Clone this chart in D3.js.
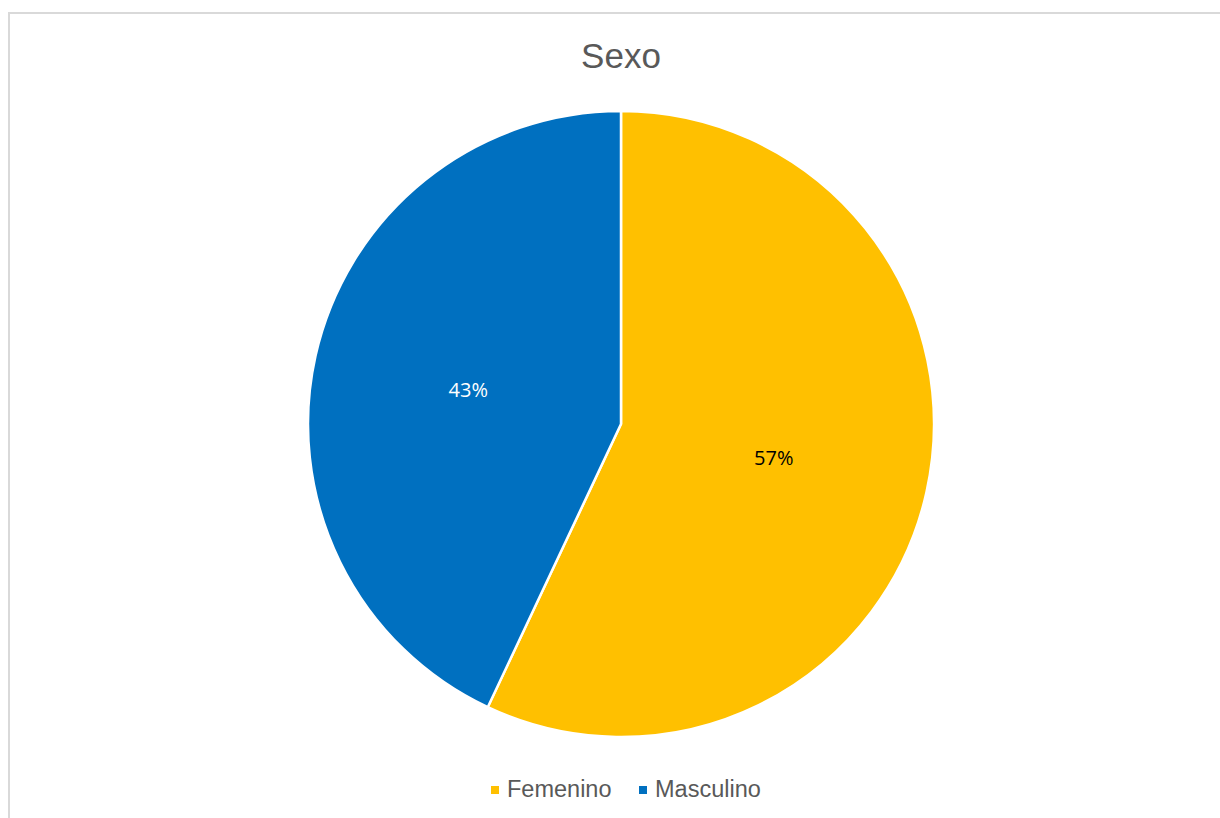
<!DOCTYPE html>
<html>
<head>
<meta charset="utf-8">
<script src="https://cdn.jsdelivr.net/npm/d3@7"></script>
<style>
  body { margin: 0; background: #fff; }
  svg { display: block; }
</style>
</head>
<body>
<div id="chart"></div>
<script>
const categories = ["Femenino", "Masculino"];
const values = [57, 43];
const colors = ["#FFC000", "#0070C0"];
const labelColors = ["#000000", "#ffffff"];
const title = "Sexo";

const width = 1220, height = 818;
const cx = 621, cy = 424, radius = 313;

const svg = d3.select("#chart").append("svg")
  .attr("width", width)
  .attr("height", height);

// chart frame
svg.append("rect")
  .attr("x", 9).attr("y", 13)
  .attr("width", 1220).attr("height", 820)
  .attr("fill", "#fff")
  .attr("stroke", "#d9d9d9")
  .attr("stroke-width", 2);

svg.append("text")
  .attr("x", cx).attr("y", 68)
  .attr("text-anchor", "middle")
  .style("font-family", "'Liberation Sans', Arial, sans-serif")
  .style("font-size", "35px")
  .style("fill", "#595959")
  .text(title);

const data = categories.map((c, i) => ({ name: c, value: values[i], color: colors[i], label: labelColors[i] }));
const pie = d3.pie().value(d => d.value).sort(null);
const arc = d3.arc().innerRadius(0).outerRadius(radius);
const labelArc = d3.arc().innerRadius(radius * 0.5).outerRadius(radius * 0.5);

const g = svg.append("g").attr("transform", `translate(${cx},${cy})`);
const arcs = pie(data);

g.selectAll("path")
  .data(arcs)
  .enter()
  .append("path")
  .attr("d", arc)
  .attr("fill", d => d.data.color)
  .attr("stroke", "#fff")
  .attr("stroke-width", 2.5);

const total = d3.sum(values);
g.selectAll("text.lbl")
  .data(arcs)
  .enter()
  .append("text")
  .attr("class", "lbl")
  .attr("transform", d => `translate(${labelArc.centroid(d)})`)
  .attr("dy", "0.35em")
  .attr("text-anchor", "middle")
  .style("font-family", "'Open Sans', sans-serif")
  .style("font-size", "20px")
  .style("fill", d => d.data.label)
  .text(d => Math.round(d.data.value / total * 100) + "%");

// legend
const legendItems = [{ x: 491, tx: 507 }, { x: 639, tx: 655 }];
const legend = svg.append("g");
data.forEach((d, i) => {
  legend.append("rect")
    .attr("x", legendItems[i].x).attr("y", 786)
    .attr("width", 8).attr("height", 8)
    .attr("fill", d.color);
  legend.append("text")
    .attr("x", legendItems[i].tx).attr("y", 797)
    .style("font-family", "'Liberation Sans', Arial, sans-serif")
    .style("font-size", "23.5px")
    .style("fill", "#595959")
    .text(d.name);
});
</script>
</body>
</html>
